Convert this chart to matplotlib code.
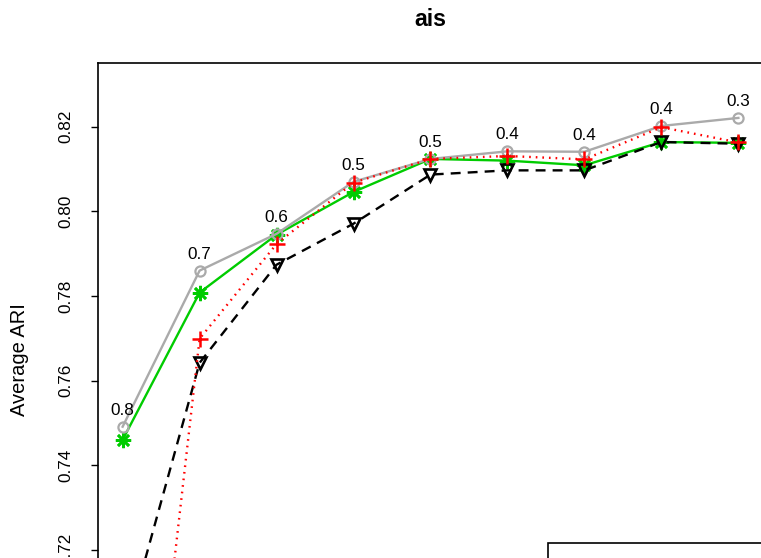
import numpy as np
import matplotlib.pyplot as plt
import matplotlib.patches as mpatches

plt.rcParams['font.family'] = ['Liberation Sans', 'DejaVu Sans']

# data
x = np.arange(1, 10)
gray = [0.7491, 0.7860, 0.7947, 0.8070, 0.8124, 0.8142, 0.8141, 0.8202, 0.8221]
green = [0.7460, 0.7808, 0.7945, 0.8046, 0.8124, 0.8120, 0.8109, 0.8164, 0.8162]
red = [0.610, 0.7699, 0.7923, 0.8068, 0.8124, 0.8131, 0.8123, 0.8199, 0.8163]
black = [0.6985, 0.7642, 0.7874, 0.7971, 0.8087, 0.8097, 0.8097, 0.8164, 0.8160]
labels = ['0.8', '0.7', '0.6', '0.5', '0.5', '0.4', '0.4', '0.4', '0.3']
yticks = [0.72, 0.74, 0.76, 0.78, 0.80, 0.82]

W, H = 761, 558
fig = plt.figure(figsize=(W / 100, H / 100), dpi=100)

# R-style limits: ylim c(0.70, 0.83) plus 4% padding
ylo, yhi = 0.70 - 0.0052, 0.83 + 0.0052
xlo, xhi = 1 - 0.32, 9 + 0.32
px_per_unit = 4230.0
left, top = 98, 62.5
width = 665
height = (yhi - ylo) * px_per_unit
ax = fig.add_axes([left / W, (H - top - height) / H, width / W, height / H])

lw = 1.7
ax.plot(x, green, color='#00cc00', lw=lw, marker=(8, 2, 0), ms=11, mew=1.9, zorder=2)
ax.plot(x, black, color='black', lw=lw, ls=(0, (4.2, 3)), marker='v', ms=9,
        mfc='none', mew=1.9, zorder=3)
ax.plot(x, gray, color='#aaaaaa', lw=lw, marker='o', ms=7.3, mfc='none', mew=1.6, zorder=4)
ax.plot(x, red, color='red', lw=lw, ls=(0, (0.7, 2.1)), marker='+', ms=11, mew=1.8, zorder=5)

for xi, yi, lb in zip(x, gray, labels):
    ax.annotate(lb, (xi, yi), xytext=(0, 11.8), textcoords='offset points',
                ha='center', va='center', fontsize=12.3, zorder=6)

ax.set_xlim(xlo, xhi)
ax.set_ylim(ylo, yhi)
ax.set_yticks(yticks)
ax.set_yticklabels(['%.2f' % v for v in yticks], rotation=90, va='center', fontsize=12.3)
ax.tick_params(axis='y', length=5, width=1, pad=12.4)
ax.set_xticks([])
for s in ax.spines.values():
    s.set_linewidth(1.2)

ax.text(-79 / width, 0.5, 'Average ARI', transform=ax.transAxes, rotation=90,
        ha='center', va='center', fontsize=14.5)
fig.text(430.5 / W, 1 - 19 / H, 'ais', ha='center', va='center',
         fontsize=16.7, fontweight='bold')

# top edge of the legend box, mostly cut off below the picture
box = mpatches.Rectangle((548 / W, -0.2), 0.5, 0.2 + (H - 543) / H,
                         transform=fig.transFigure, fill=False, ec='black', lw=1.2)
fig.add_artist(box)

fig.savefig('out.png', dpi=100)
